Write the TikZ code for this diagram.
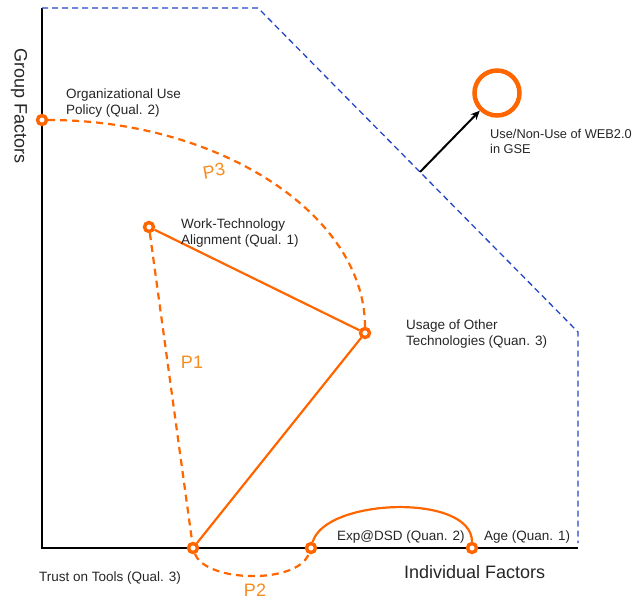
\documentclass[tikz,border=0pt]{standalone}
\usepackage{fontspec}
\setmainfont{Liberation Sans}
\usetikzlibrary{arrows.meta}
\definecolor{oline}{RGB}{255,102,0}
\definecolor{olabel}{RGB}{245,140,30}
\definecolor{bline}{RGB}{35,70,200}
\tikzset{
  fnode/.style={circle,draw=oline,fill=white,line width=3.4pt,minimum size=9pt,inner sep=0pt},
  bignode/.style={circle,draw=oline,fill=white,line width=4.5pt,minimum size=45pt,inner sep=0pt},
  lbl/.style={font=\fontsize{13.5}{16}\selectfont,text=black!85,inner sep=0pt,anchor=base west,align=left},
  plbl/.style={font=\fontsize{18}{20}\selectfont,text=olabel,inner sep=0pt},
  axlbl/.style={font=\fontsize{18}{20}\selectfont,text=black!85,inner sep=0pt},
  solidc/.style={draw=oline,line width=2.2pt},
  dashc/.style={draw=oline,line width=2.2pt,dash pattern=on 7pt off 5pt},
  bluedash/.style={draw=bline,line width=1.3pt,dash pattern=on 6pt off 4pt},
  axis/.style={draw=black,line width=2.6pt}
}
\begin{document}
\begin{tikzpicture}[x=1pt,y=-1pt]
\useasboundingbox (0,0) rectangle (636,602);
% coordinates
\coordinate (otop) at (42,8);
\coordinate (orig) at (42,548);
\coordinate (xend) at (578,548);
\coordinate (b1) at (258,8);
\coordinate (b2) at (578,332);
\coordinate (b3) at (578,543);
\coordinate (bstart) at (420,172);
% axes
\draw[axis] (otop) -- (orig) -- (xend);
% blue boundary
\draw[bluedash] (otop) -- (b1) -- (b2) -- (b3);
% nodes
\node[fnode] (org) at (42,120) {};
\node[fnode] (work) at (149,227) {};
\node[fnode] (usage) at (365,333) {};
\node[fnode] (trust) at (193,548) {};
\node[fnode] (exp) at (311,548) {};
\node[fnode] (age) at (472,548) {};
\node[bignode] (web) at (497,93) {};
% connectors
\draw[dashc] (org) .. controls (220,120) and (365,215) .. (usage);
\draw[solidc] (work) -- (usage);
\draw[dashc] (work) -- (trust);
\draw[solidc] (trust) -- (usage);
\draw[dashc] (trust) .. controls (205,582) and (297,585) .. (exp);
\draw[solidc] (exp) .. controls (325,498) and (472,493) .. (age);
\draw[line width=2pt,-{Stealth[length=9pt,width=8pt]}] (bstart) -- (web);
% labels
\node[lbl] (lorg) at (66,114) {Organizational Use\\Policy (Qual. 2)};
\node[lbl] (lwork) at (181,244) {Work-Technology\\Alignment (Qual. 1)};
\node[lbl] (lusage) at (406,345) {Usage of Other\\Technologies (Quan. 3)};
\node[lbl] (ltrust) at (39,581) {Trust on Tools (Qual. 3)};
\node[lbl] (lexp) at (337,540) {Exp@DSD (Quan. 2)};
\node[lbl] (lage) at (484,540) {Age (Quan. 1)};
\node[lbl,font=\fontsize{12.8}{15}\selectfont] (lweb) at (490,153) {Use/Non-Use of WEB2.0\\in GSE};
\node[axlbl,anchor=base west] (lind) at (404,578) {Individual Factors};
\node[axlbl,rotate=-90] (lgrp) at (19,106) {Group Factors};
\node[plbl,rotate=10] (p3) at (214,171) {P3};
\node[plbl] (p1) at (192,362) {P1};
\node[plbl] (p2) at (255,590) {P2};
\end{tikzpicture}
\end{document}
